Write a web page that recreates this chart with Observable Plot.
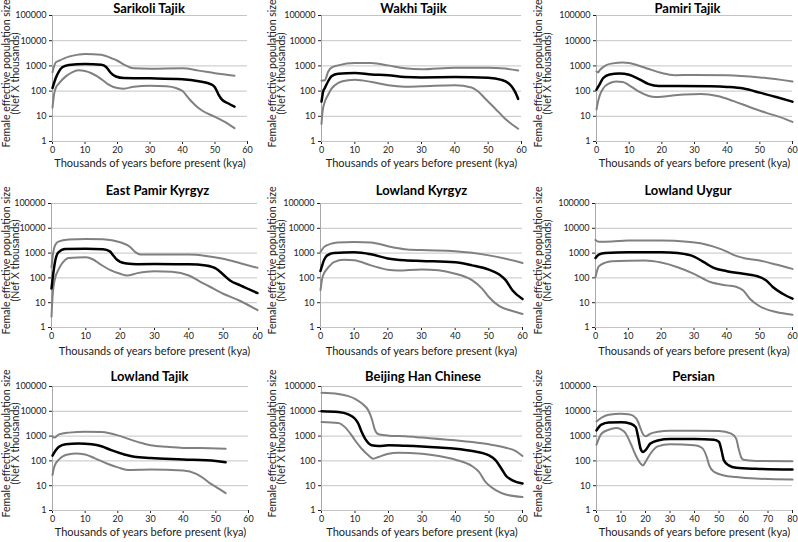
<!DOCTYPE html>
<html><head><meta charset="utf-8">
<script src="https://cdn.jsdelivr.net/npm/d3@7"></script>
<script src="https://cdn.jsdelivr.net/npm/@observablehq/plot@0.6"></script>
<style>
body{margin:0;background:#fff;}
#chart{position:relative;width:798px;height:542px;background:#fff;font-family:Lato,"Open Sans",sans-serif;}
#chart > div{position:absolute;}
</style></head><body><div id="chart"></div>
<script>
// ---- tick labels ----
const yTicks = [1, 10, 100, 1000, 10000, 100000];
const xTicks60 = [0, 10, 20, 30, 40, 50, 60];
const xTicks80 = [0, 10, 20, 30, 40, 50, 60, 70, 80];
const titles = ["Sarikoli Tajik", "Wakhi Tajik", "Pamiri Tajik", "East Pamir Kyrgyz", "Lowland Kyrgyz", "Lowland Uygur", "Lowland Tajik", "Beijing Han Chinese", "Persian"];
const xLabel = "Thousands of years before present (kya)";
const yLabel1 = "Female effective population size";
const yLabel2 = "(Nef X thousands)";

// ---- series: [kya, Nef x thousands] ----
const sarikoliUpper = [[0,556],[1,1380],[2,1600],[5,2340],[8,2800],[10,2960],[15,2800],[18,2060],[20,1600],[22,1120],[25,800],[30,770],[40,800],[45,650],[50,510],[56,410]];
const sarikoliMedian = [[0,132],[1,330],[2,610],[3,880],[5,1090],[10,1200],[15,1100],[16.5,900],[18,520],[19.5,380],[22,330],[30,320],[40,295],[45,245],[49,180],[50,140],[51,76],[52,48],[54,33],[56,24]];
const sarikoliLower = [[0,22],[0.5,76],[1,132],[2,203],[4,375],[6,556],[8,665],[10,625],[12,510],[15,300],[17,190],[20,132],[22,125],[25,150],[30,163],[35,155],[38,132],[40,100],[42,50],[44,27],[46,17],[50,9.5],[53,6],[56,3.4]];

const wakhiUpper = [[0,260],[1,270],[2,590],[3,850],[5,1050],[10,1310],[15,1290],[20,1050],[25,800],[30,730],[40,850],[50,850],[55,780],[59,660]];
const wakhiMedian = [[0,38],[0.5,97],[1,133],[2,246],[3,390],[5,490],[10,520],[15,460],[20,430],[25,360],[30,350],[40,360],[50,340],[54,280],[56,210],[57,155],[58,97],[59,49]];
const wakhiLower = [[0,5],[0.3,15],[1,38],[2,72],[3,125],[5,210],[8,270],[10,280],[15,230],[20,170],[25,150],[30,155],[40,170],[45,140],[47,97],[49,52],[52,21],[55,8.2],[59,3.2]];

const pamiriUpper = [[0,605],[0.5,550],[1,680],[3,1080],[5,1260],[8,1380],[10,1310],[13,1020],[16,750],[20,520],[24,430],[30,440],[40,430],[50,350],[60,240]];
const pamiriMedian = [[0,115],[1,190],[2,325],[4,460],[7,500],[10,445],[13,300],[16,190],[19,160],[25,160],[35,155],[40,146],[45,126],[50,87],[55,58],[60,38]];
const pamiriLower = [[0,18.6],[0.5,40],[1,68],[2,125],[4,205],[6,240],[8,230],[10,170],[13,95],[16,64],[18,58],[22,64],[27,74],[32,76],[37,64],[42,40],[47,23],[52,13.7],[56,9.5],[60,6]];

const eastPamirUpper = [[0,270],[0.5,1070],[1,2000],[2,2900],[5,3500],[10,3700],[15,3600],[20,2750],[23,1730],[24.5,1070],[26,870],[30,870],[40,870],[45,770],[50,590],[55,390],[60,255]];
const eastPamirMedian = [[0,37],[0.5,146],[1,430],[2,1080],[4,1480],[10,1500],[15,1440],[17,1180],[18,800],[19,550],[20,445],[22,380],[25,355],[30,360],[40,355],[45,315],[48,233],[50,138],[52,79],[55,50],[60,24.5]];
const eastPamirLower = [[0,2.7],[0.3,17],[1,92],[2,210],[3,370],[5,640],[10,680],[12,565],[14,370],[17,210],[20,146],[22,125],[25,156],[30,187],[35,178],[40,125],[43,74],[46,45],[50,23],[55,11.7],[60,5]];

const lowKyrgyzUpper = [[0,1100],[1,1740],[3,2350],[5,2700],[10,2830],[15,2700],[20,1900],[25,1440],[30,1320],[40,1200],[45,1030],[50,810],[55,590],[60,400]];
const lowKyrgyzMedian = [[0,190],[0.5,320],[1,510],[2,810],[4,1000],[10,1070],[15,890],[20,610],[25,510],[30,480],[40,425],[45,320],[50,215],[53,140],[55,81],[57,32],[60,14]];
const lowKyrgyzLower = [[0,32],[0.5,94],[1,148],[2,235],[4,435],[7,540],[10,510],[15,320],[20,215],[23,200],[30,220],[35,205],[40,148],[45,81],[48,37],[50,17],[53,7.4],[57,4.6],[60,3.5]];

const uygurUpper = [[0,3400],[1,2900],[5,2950],[10,3200],[20,3200],[28,2900],[32,2500],[36,1820],[40,1150],[42,850],[45,640],[50,500],[55,345],[60,230]];
const uygurMedian = [[0,640],[1,870],[3,1000],[10,1080],[20,1080],[25,1000],[30,720],[33,430],[36,255],[40,187],[45,146],[50,108],[52,79],[54,43],[57,23],[60,14.5]];
const uygurLower = [[0,108],[0.5,200],[1,290],[3,415],[5,470],[15,500],[20,415],[25,270],[30,146],[35,68],[40,50],[43,43],[45,31],[47,14.5],[50,7.2],[55,4.2],[60,3.3]];

const lowTajikUpper = [[0,980],[0.5,870],[2,1170],[5,1380],[10,1510],[15,1450],[20,1070],[23,790],[27,535],[30,430],[35,370],[40,335],[45,330],[53,310]];
const lowTajikMedian = [[0,162],[1,270],[2,370],[4,470],[8,500],[12,470],[15,390],[18,270],[22,182],[25,146],[30,130],[40,115],[50,100],[53,88]];
const lowTajikLower = [[0,27],[0.5,55],[1,80],[2,115],[4,172],[7,200],[10,182],[13,126],[17,75],[20,55],[23,43],[30,45],[40,41],[44,30],[46,21],[48,13],[50,9],[53,5]];

const hanUpper = [[0,56000],[5,50000],[8,41000],[10,32000],[12,21000],[14,10700],[15,5000],[16,1700],[17,1180],[20,1040],[25,980],[30,870],[40,675],[45,575],[50,465],[55,340],[58,250],[60,158]];
const hanMedian = [[0,10000],[5,9300],[8,7500],[10,5000],[11,3150],[12,1450],[13,790],[14,525],[15,425],[17,400],[20,425],[25,410],[30,385],[35,350],[40,310],[45,250],[50,168],[52,105],[54,42],[55,26],[57,16.5],[60,12.2]];
const hanLower = [[0,3700],[5,3400],[7,2300],[9,1070],[10,680],[12,310],[14,168],[15.5,123],[17,144],[20,195],[23,215],[30,195],[35,158],[40,112],[45,61],[47,36],[49,14],[50,10.4],[52,6.6],[55,4.4],[60,3.5]];

const persianUpper = [[0,3900],[2,5500],[5,7300],[10,8000],[13,7600],[15,6600],[17,3700],[18,2000],[19,1180],[20,980],[22,1250],[25,1500],[30,1650],[40,1650],[50,1600],[55,1250],[57,790],[58,310],[59,144],[60,112],[65,100],[80,97]];
const persianMedian = [[0,1700],[2,2900],[5,3500],[10,3600],[14,3150],[16,2300],[17,920],[18,310],[19,230],[20,270],[22,500],[25,670],[30,760],[40,760],[48,720],[50,580],[51,270],[52,105],[54,66],[57,53],[65,48],[80,45]];
const persianLower = [[0,450],[2,1250],[5,1800],[8,2100],[10,1850],[12,1250],[14,490],[16,168],[18,78],[19,66],[20,91],[22,195],[25,385],[30,465],[40,425],[43,340],[45,144],[46,66],[48,36],[52,26],[57,22.5],[65,19.4],[80,17.6]];

const series = [
  [sarikoliUpper, sarikoliMedian, sarikoliLower],
  [wakhiUpper, wakhiMedian, wakhiLower],
  [pamiriUpper, pamiriMedian, pamiriLower],
  [eastPamirUpper, eastPamirMedian, eastPamirLower],
  [lowKyrgyzUpper, lowKyrgyzMedian, lowKyrgyzLower],
  [uygurUpper, uygurMedian, uygurLower],
  [lowTajikUpper, lowTajikMedian, lowTajikLower],
  [hanUpper, hanMedian, hanLower],
  [persianUpper, persianMedian, persianLower]
];
const xTickSets = [xTicks60, xTicks60, xTicks60, xTicks60, xTicks60, xTicks60, xTicks60, xTicks60, xTicks80];

// ---- layout (pixels) ----
const colLeft = [0, 266, 532];
const rows = [
  {top: 0, h: 180, mt: 15, mb: 39, titleDy: -7, xlabDy: 22},
  {top: 180, h: 180, mt: 23, mb: 33, titleDy: -13, xlabDy: 24},
  {top: 360, h: 182, mt: 26, mb: 32, titleDy: -10, xlabDy: 22}
];
const margins = [[52,19],[55,11],[64,6],[51,9],[54,10],[63,6],[52,18],[55,10],[64,6]];
const titleShift = [-1,-8,-7,3,0,-6,-1,1,-1];

const root = document.getElementById("chart");
const font = "Lato, 'Open Sans', sans-serif";

series.forEach(([up, med, lo], i) => {
  const row = rows[Math.floor(i / 3)];
  const col = i % 3;
  const [ml, mr] = margins[i];
  const xt = xTickSets[i];
  const plot = Plot.plot({
    width: 266, height: row.h,
    marginLeft: ml, marginRight: mr, marginTop: row.mt, marginBottom: row.mb,
    style: {fontFamily: font, fontSize: "9px", color: "#222", background: "#fff", overflow: "visible"},
    x: {type: "linear", domain: [0, xt[xt.length - 1]], ticks: xt, tickSize: 3, tickPadding: 2, label: null},
    y: {type: "log", domain: [1, 100000], ticks: yTicks, tickFormat: d => String(d), tickSize: 3, tickPadding: 3, label: null},
    marks: [
      Plot.ruleY(yTicks, {stroke: "#c4c4c4", strokeWidth: 1}),
      Plot.ruleX([0], {stroke: "#a8a8a8", strokeWidth: 1}),
      Plot.line(up, {x: d => d[0], y: d => d[1], stroke: "#808080", strokeWidth: 2, curve: "monotone-x"}),
      Plot.line(lo, {x: d => d[0], y: d => d[1], stroke: "#808080", strokeWidth: 2, curve: "monotone-x"}),
      Plot.line(med, {x: d => d[0], y: d => d[1], stroke: "#000", strokeWidth: 2.5, curve: "monotone-x"}),
      Plot.text([titles[i]], {frameAnchor: "top", lineAnchor: "middle", dy: row.titleDy, dx: titleShift[i], fontWeight: "bold", fontSize: 13, fill: "#000"}),
      Plot.text([xLabel], {frameAnchor: "bottom", lineAnchor: "middle", dy: row.xlabDy, fontSize: 11, fill: "#222"}),
      Plot.text([yLabel1], {frameAnchor: "left", lineAnchor: "middle", textAnchor: "middle", rotate: -90, dx: 6 - ml, dy: -5, fontSize: 10.5, fill: "#222"}),
      Plot.text([yLabel2], {frameAnchor: "left", lineAnchor: "middle", textAnchor: "middle", rotate: -90, dx: 15 - ml, dy: -5, fontSize: 10.5, fill: "#222"})
    ]
  });
  const holder = document.createElement("div");
  holder.style.left = colLeft[col] + "px";
  holder.style.top = row.top + "px";
  holder.style.width = "266px";
  holder.appendChild(plot);
  root.appendChild(holder);
});
</script></body></html>
